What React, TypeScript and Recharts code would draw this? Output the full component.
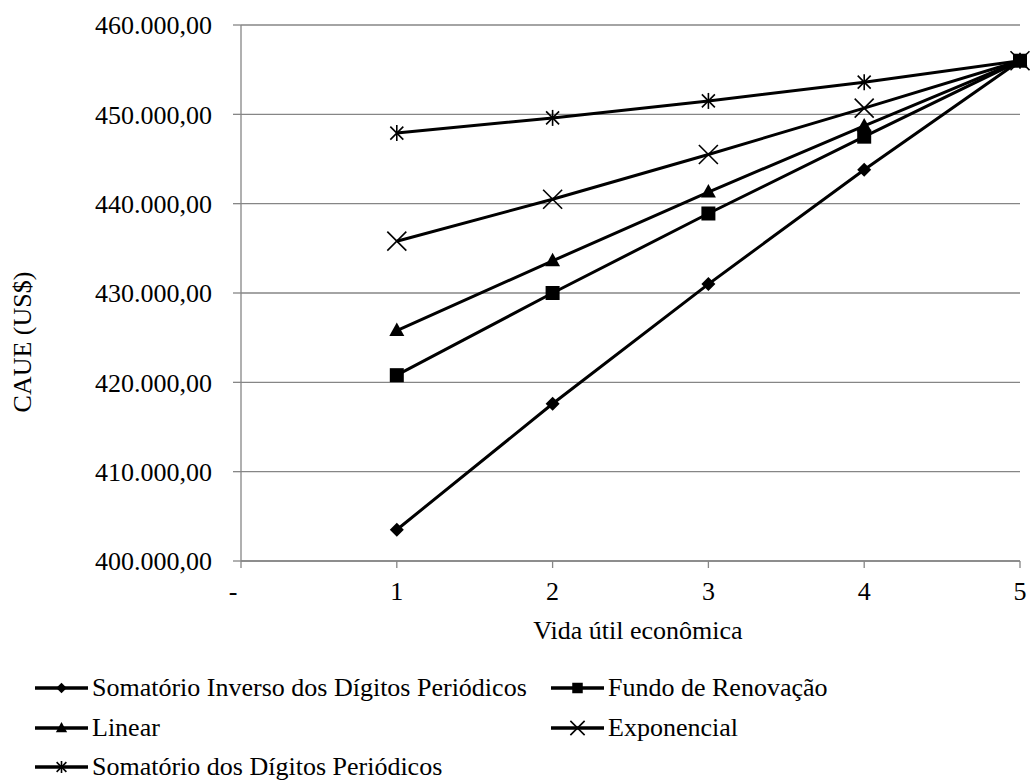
import React from "react";
import { LineChart, Line, XAxis, YAxis, CartesianGrid } from "recharts";

const YEARS = [1, 2, 3, 4, 5];
const X_TICKS = [0, 1, 2, 3, 4, 5];
const Y_TICKS = [400000, 410000, 420000, 430000, 440000, 450000, 460000];

const SOMA_INVERSO = [403500, 417600, 431000, 443800, 456000];
const FUNDO = [420800, 430000, 438900, 447500, 456000];
const LINEAR = [425800, 433600, 441300, 448700, 456000];
const EXPONENCIAL = [435800, 440500, 445500, 450700, 456000];
const SOMA_DIGITOS = [447900, 449600, 451500, 453600, 456000];

const FONT = "Liberation Serif, DejaVu Serif, serif";
const GRID = "#868686";

const data = YEARS.map((x, i) => ({
  x,
  somaInv: SOMA_INVERSO[i],
  fundo: FUNDO[i],
  linear: LINEAR[i],
  expo: EXPONENCIAL[i],
  somaDig: SOMA_DIGITOS[i],
}));

function formatBR(v: number): string {
  const s = Math.round(v).toString().replace(/\B(?=(\d{3})+(?!\d))/g, ".");
  return `${s},00`;
}

type MarkProps = { cx?: number; cy?: number; s?: number };

const Diamond = ({ cx = 0, cy = 0, s = 1 }: MarkProps) => (
  <polygon
    points={`${cx},${cy - 7 * s} ${cx + 7 * s},${cy} ${cx},${cy + 7 * s} ${cx - 7 * s},${cy}`}
    fill="#000"
  />
);
const Square = ({ cx = 0, cy = 0, s = 1 }: MarkProps) => (
  <rect x={cx - 7 * s} y={cy - 7 * s} width={14 * s} height={14 * s} fill="#000" />
);
const Triangle = ({ cx = 0, cy = 0, s = 1 }: MarkProps) => (
  <polygon
    points={`${cx},${cy - 8 * s} ${cx + 7.5 * s},${cy + 5.5 * s} ${cx - 7.5 * s},${cy + 5.5 * s}`}
    fill="#000"
  />
);
const Cross = ({ cx = 0, cy = 0, s = 1 }: MarkProps) => (
  <g stroke="#000" strokeWidth={1.6}>
    <line x1={cx - 9.5 * s} y1={cy - 9.5 * s} x2={cx + 9.5 * s} y2={cy + 9.5 * s} />
    <line x1={cx - 9.5 * s} y1={cy + 9.5 * s} x2={cx + 9.5 * s} y2={cy - 9.5 * s} />
  </g>
);
const Star = ({ cx = 0, cy = 0, s = 1 }: MarkProps) => (
  <g stroke="#000" strokeWidth={1.6}>
    <line x1={cx - 6.5 * s} y1={cy - 6.5 * s} x2={cx + 6.5 * s} y2={cy + 6.5 * s} />
    <line x1={cx - 6.5 * s} y1={cy + 6.5 * s} x2={cx + 6.5 * s} y2={cy - 6.5 * s} />
    <line x1={cx} y1={cy - 8 * s} x2={cx} y2={cy + 8 * s} />
  </g>
);

const SERIES = [
  { key: "somaInv", name: "Somatório Inverso dos Dígitos Periódicos", Mark: Diamond },
  { key: "somaDig", name: "Somatório dos Dígitos Periódicos", Mark: Star },
  { key: "expo", name: "Exponencial", Mark: Cross },
  { key: "linear", name: "Linear", Mark: Triangle },
  { key: "fundo", name: "Fundo de Renovação", Mark: Square },
];

// legend order as in the picture: [row, column]
const LEGEND = [
  { key: "somaInv", row: 0, col: 0 },
  { key: "fundo", row: 0, col: 1 },
  { key: "linear", row: 1, col: 0 },
  { key: "expo", row: 1, col: 1 },
  { key: "somaDig", row: 2, col: 0 },
];
const ROW_Y = [688, 728, 767];
const COL_X = [35, 551];

const XTick = (props: any) => {
  const { x, y, payload } = props;
  const label = payload.value === 0 ? "-" : String(payload.value);
  return (
    <text
      x={payload.value === 0 ? x - 8 : x}
      y={y}
      dy={18}
      textAnchor="middle"
      fontFamily={FONT}
      fontSize={26}
      fill="#000"
    >
      {label}
    </text>
  );
};

export default function App() {
  return (
    <div style={{ position: "absolute", left: 0, top: 0, width: 1030, height: 781, background: "#fff", fontFamily: FONT }}>
      <LineChart width={1030} height={781} data={data} margin={{ top: 25, right: 10, bottom: 0, left: 0 }}>
        <CartesianGrid vertical={false} stroke={GRID} strokeWidth={1.3} />
        <XAxis
          dataKey="x"
          type="number"
          domain={[0, 5]}
          ticks={X_TICKS}
          interval={0}
          height={220}
          stroke={GRID}
          strokeWidth={1.3}
          tickSize={7}
          tickMargin={14}
          tick={<XTick />}
          label={{
            content: () => (
              <text x={638} y={630} textAnchor="middle" dominantBaseline="central" fontFamily={FONT} fontSize={26} fill="#000">
                Vida útil econômica
              </text>
            ),
          }}
        />
        <YAxis
          type="number"
          domain={[400000, 460000]}
          ticks={Y_TICKS}
          interval={0}
          width={241}
          stroke={GRID}
          strokeWidth={1.3}
          tickSize={8}
          tickMargin={21}
          tickFormatter={formatBR}
          tick={{ fontFamily: FONT, fontSize: 26, fill: "#000" }}
          label={{
            content: () => (
              <text
                x={22}
                y={342}
                transform="rotate(-90 22 342)"
                textAnchor="middle"
                dominantBaseline="central"
                fontFamily={FONT}
                fontSize={26}
                fill="#000"
              >
                CAUE (US$)
              </text>
            ),
          }}
        />
        {SERIES.map(({ key, name, Mark }) => (
          <Line
            key={key}
            dataKey={key}
            name={name}
            type="linear"
            stroke="#000"
            strokeWidth={3}
            isAnimationActive={false}
            activeDot={false}
            dot={(p: any) => <Mark key={`${key}-${p.index}`} cx={p.cx} cy={p.cy} />}
          />
        ))}
      </LineChart>
      {LEGEND.map(({ key, row, col }) => {
        const s = SERIES.find((d) => d.key === key)!;
        const M = s.Mark;
        return (
          <div
            key={key}
            style={{
              position: "absolute",
              left: COL_X[col],
              top: ROW_Y[row] - 20,
              height: 40,
              display: "flex",
              alignItems: "center",
              fontFamily: FONT,
              fontSize: 26,
              color: "#000",
              whiteSpace: "nowrap",
            }}
          >
            <svg width={53} height={20} style={{ marginRight: 4 }}>
              <line x1={0} y1={10} x2={53} y2={10} stroke="#000" strokeWidth={3.5} />
              <M cx={26.5} cy={10} s={0.75} />
            </svg>
            <span>{s.name}</span>
          </div>
        );
      })}
    </div>
  );
}
